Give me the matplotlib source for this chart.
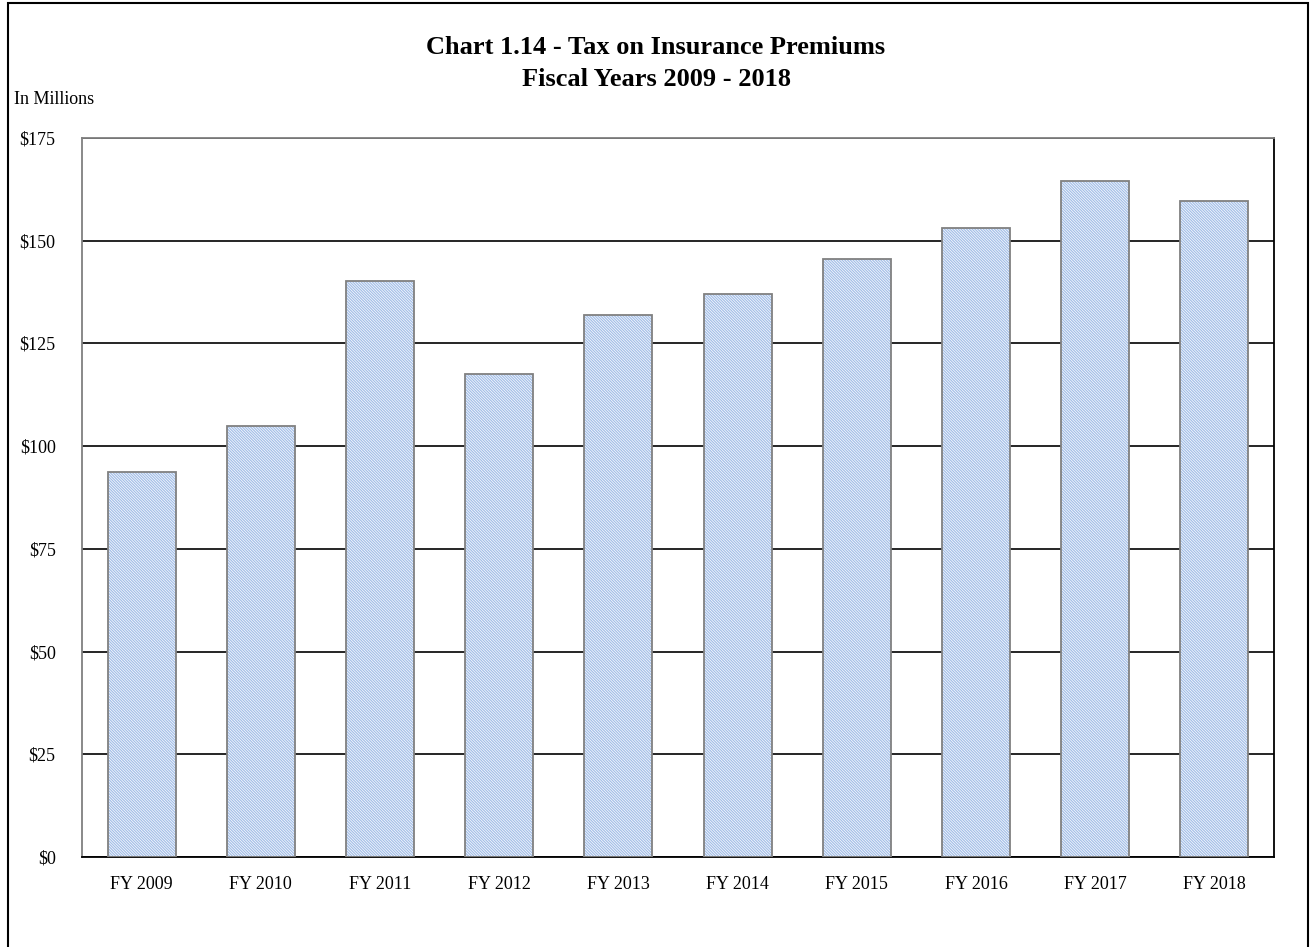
import matplotlib.pyplot as plt
from matplotlib.patches import Rectangle
from matplotlib.ticker import FuncFormatter

plt.rcParams['font.family'] = ['Liberation Serif', 'DejaVu Serif']
plt.rcParams['hatch.linewidth'] = 0.5

# Data (in millions)
years = ['FY 2009', 'FY 2010', 'FY 2011', 'FY 2012', 'FY 2013',
         'FY 2014', 'FY 2015', 'FY 2016', 'FY 2017', 'FY 2018']
premium_tax = [93.6, 104.8, 140.1, 117.5, 131.9, 137.0, 145.5, 153.1, 164.5, 159.7]
y_ticks = [0, 25, 50, 75, 100, 125, 150, 175]

fig = plt.figure(figsize=(13.12, 9.47), dpi=100)
ax = fig.add_axes([0.0625, 0.095, 0.9085, 0.7593])

x = range(len(years))
# fine hatched fill, then grey outline on top
ax.bar(x, premium_tax, width=0.57, color='#a4bfe8', edgecolor='white',
       hatch='\\' * 12, linewidth=0, zorder=2)
ax.bar(x, premium_tax, width=0.57, fill=False, edgecolor='#808080',
       linewidth=1.3, zorder=3)

ax.set_xlim(-0.5, len(years) - 0.5)
ax.set_ylim(0, 175)
ax.set_yticks(y_ticks)
ax.yaxis.set_major_formatter(FuncFormatter(lambda v, p: '${:,.0f}'.format(v)))
ax.set_xticks(list(x))
ax.set_xticklabels(years)
ax.tick_params(axis='both', length=0, labelsize=13)
ax.tick_params(axis='y', pad=19)
ax.tick_params(axis='x', pad=14)

ax.grid(axis='y', color='black', linewidth=1.2)
ax.set_axisbelow(True)
ax.spines['left'].set_color('#808080')
ax.spines['top'].set_color('#808080')
ax.spines['right'].set_color('black')
ax.spines['bottom'].set_color('black')
for s in ax.spines.values():
    s.set_linewidth(1.3)

fig.text(0.5, 1 - 47 / 947, 'Chart 1.14 - Tax on Insurance Premiums',
         ha='center', va='center', fontsize=19, fontweight='bold')
fig.text(0.5, 1 - 80 / 947, 'Fiscal Years 2009 - 2018',
         ha='center', va='center', fontsize=19, fontweight='bold')
fig.text(14 / 1312, 1 - 100 / 947, 'In Millions', ha='left', va='center', fontsize=13)

# outer chart border (bottom edge falls outside the image)
fig.patches.append(Rectangle((8 / 1312, -10 / 947), 1300 / 1312, 954 / 947,
                             transform=fig.transFigure, fill=False,
                             edgecolor='black', linewidth=1.5))

fig.savefig('out.png', dpi=100)
